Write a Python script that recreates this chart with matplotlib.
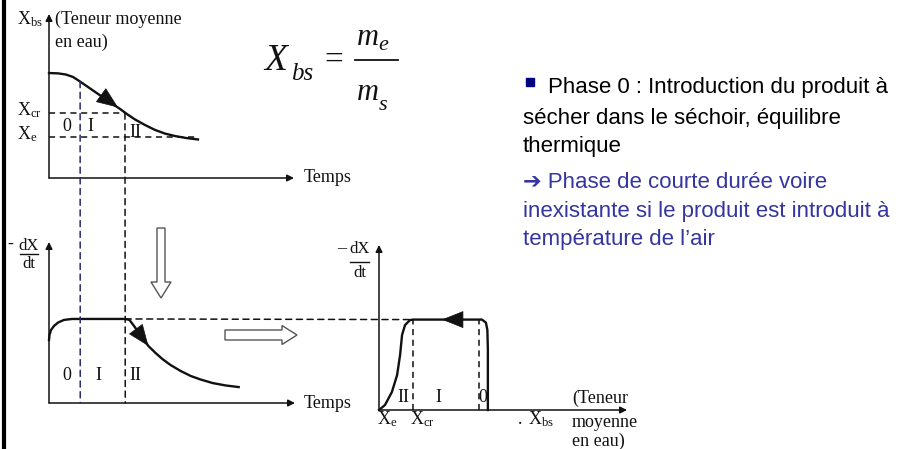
import matplotlib
matplotlib.use('Agg')
import matplotlib.pyplot as plt
from matplotlib.patches import FancyArrow, Rectangle, ConnectionPatch

plt.rcParams['mathtext.fontset'] = 'custom'
plt.rcParams['mathtext.rm'] = 'Liberation Serif'
plt.rcParams['mathtext.it'] = 'Liberation Serif:italic'
plt.rcParams['font.family'] = ['Liberation Serif', 'DejaVu Serif']

W, H = 898, 449

# courbe de sechage : teneur en eau X en fonction du temps
t_a = [0, 0.37, 0.69, 0.98, 1.27, 1.59, 1.92, 2.24, 2.57, 2.9, 3.18, 3.51, 3.92, 4.33, 4.73, 5.14, 5.59, 6.08]
x_a = [0.64, 0.638, 0.631, 0.616, 0.588, 0.555, 0.521, 0.488, 0.454, 0.421, 0.39, 0.357, 0.323, 0.293, 0.271, 0.256, 0.244, 0.235]

# vitesse de sechage -dX/dt en fonction du temps
t_b = [0, 0.02, 0.08, 0.2, 0.37, 0.61, 0.94, 1.27, 3.1, 3.27, 3.43, 3.63, 3.84, 4.04, 4.33,
       4.61, 4.94, 5.35, 5.76, 6.16, 6.65, 7.18, 7.71]
r_b = [0.391, 0.422, 0.453, 0.478, 0.5, 0.516, 0.522, 0.522, 0.522, 0.516, 0.484, 0.441, 0.398, 0.354, 0.311,
       0.273, 0.236, 0.199, 0.168, 0.146, 0.124, 0.109, 0.099]

# vitesse de sechage en fonction de la teneur en eau
x_c = [0, 0.024, 0.052, 0.073, 0.085, 0.093, 0.105, 0.125, 0.137, 0.403, 0.415, 0.431, 0.437, 0.439, 0.439]
r_c = [0, 0.03, 0.109, 0.212, 0.333, 0.455, 0.515, 0.545, 0.548, 0.548, 0.548, 0.53, 0.485, 0.364, 0]

t0, tcr = 1.27, 3.1
Xcr, Xe = 0.396, 0.247
xc_cr, xc_0 = 0.137, 0.403

black = '#111111'
navy = '#2a2a6a'
blue = '#3535a0'
dash = (0, (4, 3))

fig = plt.figure(figsize=(W / 100, H / 100), dpi=100)


def panel(l, t, r, b, xmax, ymax):
    ax = fig.add_axes([l / W, 1 - b / H, (r - l) / W, (b - t) / H])
    ax.set_xlim(0, xmax)
    ax.set_ylim(0, ymax)
    ax.axis('off')
    ax.patch.set_visible(False)
    ap = dict(arrowstyle='-|>', color=black, lw=1.1, mutation_scale=10, shrinkA=0, shrinkB=0)
    ax.annotate('', xy=(xmax, 0), xytext=(0, 0), arrowprops=ap, annotation_clip=False)
    ax.annotate('', xy=(0, ymax), xytext=(0, 0), arrowprops=ap, annotation_clip=False)
    return ax


axA = panel(49, 14, 294, 178, 10, 1)
axB = panel(49, 242, 295, 403, 10, 1)
axC = panel(379, 245, 627, 410, 1, 1)

axA.plot(t_a, x_a, color=black, lw=1.7, clip_on=False)
axB.plot(t_b, r_b, color=black, lw=1.7, clip_on=False)
axC.plot(x_c, r_c, color=black, lw=1.7, clip_on=False)

head = dict(arrowstyle='-|>,head_length=0.8,head_width=0.32', color=black, lw=0.5,
            mutation_scale=18, shrinkA=0, shrinkB=0)
axA.annotate('', xy=(2.82, 0.43), xytext=(2.2, 0.497), arrowprops=head)
axB.annotate('', xy=(4.04, 0.354), xytext=(3.59, 0.447), arrowprops=head)
axC.annotate('', xy=(0.254, 0.548), xytext=(0.32, 0.548), arrowprops=head)

# pointilles
axA.plot([0, tcr], [Xcr, Xcr], color=black, lw=1.1, ls=dash)
axA.plot([0, t_a[-1]], [Xe, Xe], color=black, lw=1.1, ls=dash)
xa_t0 = x_a[t_a.index(t0)]
for ta, ya, col in [(t0, xa_t0, navy), (tcr, Xcr, black)]:
    fig.add_artist(ConnectionPatch(xyA=(ta, ya), coordsA=axA.transData,
                                   xyB=(ta, 0), coordsB=axB.transData,
                                   color=col, lw=1.1, ls=dash))
rb_flat = r_b[t_b.index(tcr)]
rc_flat = r_c[x_c.index(xc_cr)]
fig.add_artist(ConnectionPatch(xyA=(tcr, rb_flat), coordsA=axB.transData,
                               xyB=(xc_cr, rc_flat), coordsB=axC.transData,
                               color=black, lw=1.1, ls=dash))
for xv in [xc_cr, xc_0]:
    axC.plot([xv, xv], [0, rc_flat], color=black, lw=1.1, ls=dash)

# textes et decorations en pixels
ov = fig.add_axes([0, 0, 1, 1])
ov.set_xlim(0, W)
ov.set_ylim(H, 0)
ov.axis('off')
ov.patch.set_visible(False)

ov.axvline(4, color='black', lw=3)

fs = 13
def t(x, y, s, ha='left', size=fs, **kw):
    ov.text(x, y, s, ha=ha, va='baseline', fontsize=size, color=black, **kw)

# panneau A
t(17, 24, r'$\mathrm{X}_{\mathrm{bs}}$')
t(55, 24, '(Teneur moyenne')
t(55, 47, 'en eau)')
t(17, 115, r'$\mathrm{X}_{\mathrm{cr}}$')
t(17, 139, r'$\mathrm{X}_{\mathrm{e}}$')
t(67, 131, '0', ha='center')
t(90, 131, 'I', ha='center')
t(135, 137, 'II', ha='center')
t(304, 182, 'Temps')

# panneau B
t(7, 249, '-')
t(29, 250, 'dX', ha='center', size=12)
ov.plot([20, 38], [253.5, 253.5], color=black, lw=1)
t(29, 268, 'dt', ha='center', size=12)
t(67, 380, '0', ha='center')
t(98, 380, 'I', ha='center')
t(135, 380, 'II', ha='center')
t(304, 408, 'Temps')

# panneau C
t(337, 253, '\u2013')
t(360, 253, 'dX', ha='center', size=12)
ov.plot([350, 369], [262, 262], color=black, lw=1)
t(360, 277, 'dt', ha='center', size=12)
t(403, 402, 'II', ha='center')
t(438, 402, 'I', ha='center')
t(483, 402, '0', ha='center')
t(377, 424, r'$\mathrm{X}_{\mathrm{e}}$')
t(410, 424, r'$\mathrm{X}_{\mathrm{cr}}$')
t(517, 424, r'$.\ \mathrm{X}_{\mathrm{bs}}$')
t(572, 403, '(Teneur')
t(572, 427, 'moyenne')
t(572, 446, 'en eau)')

# fleches creuses
ov.add_patch(FancyArrow(161, 228, 0, 70, width=8, head_width=20, head_length=16,
                        length_includes_head=True, fill=False, ec='#555555', lw=1))
ov.add_patch(FancyArrow(225, 335, 72, 0, width=10, head_width=19, head_length=15,
                        length_includes_head=True, fill=False, ec='#555555', lw=1))

# formule
t(264, 70, 'X', size=27, style='italic')
t(291, 80, 'bs', size=18, style='italic')
t(334, 69, '=', ha='center', size=24)
ov.plot([355, 398], [60, 60], color=black, lw=1.3)
t(357, 45, 'm', size=22, style='italic')
t(378, 50, 'e', size=16, style='italic')
t(357, 100, 'm', size=22, style='italic')
t(379, 110, 's', size=16, style='italic')

# texte a droite
sans = ['Liberation Sans', 'DejaVu Sans']
ov.add_patch(Rectangle((526, 78), 8, 8, color='#000080'))
lines = [
    (548, 93, 'Phase 0 : Introduction du produit \u00e0', 'black'),
    (523, 124, 's\u00e9cher dans le s\u00e9choir, \u00e9quilibre', 'black'),
    (523, 152, 'thermique', 'black'),
    (523, 188, '\u2794 Phase de courte dur\u00e9e voire', blue),
    (523, 217, 'inexistante si le produit est introduit \u00e0', blue),
    (523, 245, 'temp\u00e9rature de l\u2019air', blue),
]
for x, y, s, c in lines:
    ov.text(x, y, s, ha='left', va='baseline', fontsize=16, color=c, family=sans)

fig.savefig('out.png', dpi=100)
